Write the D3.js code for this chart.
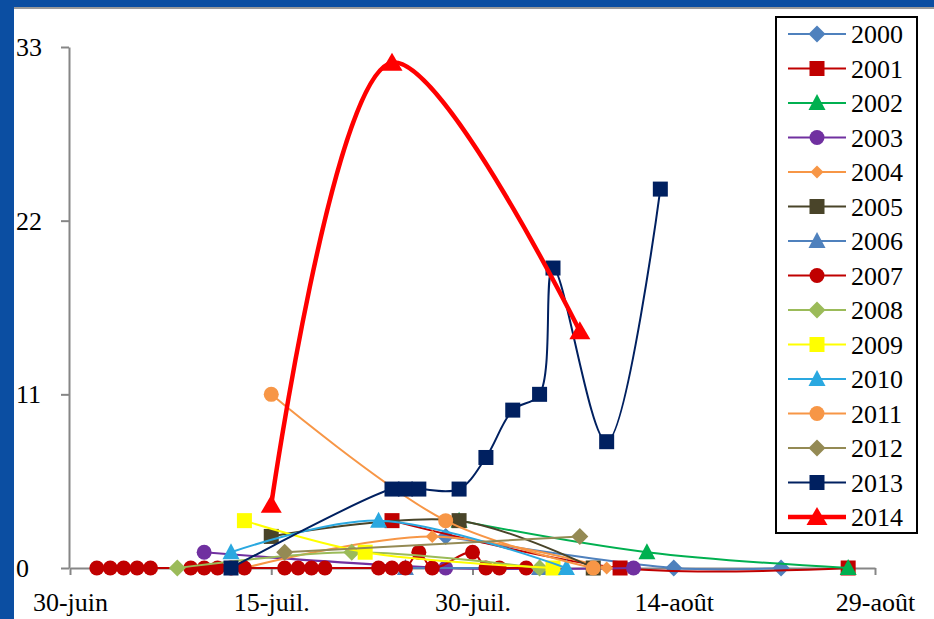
<!DOCTYPE html>
<html>
<head>
<meta charset="utf-8">
<script src="https://cdn.jsdelivr.net/npm/d3@7"></script>
<style>
  body { margin: 0; background: #fff; }
  svg { display: block; }
</style>
</head>
<body>
<svg id="chart" width="934" height="619"></svg>
<script>
// Catches per survey date; x = days after 30 June, y = count
const years = ["2000", "2001", "2002", "2003", "2004", "2005", "2006", "2007",
               "2008", "2009", "2010", "2011", "2012", "2013", "2014"];
const colors = ["#4f81bd", "#c00000", "#00b050", "#7030a0", "#f79646", "#494429", "#4f81bd", "#c00000",
                "#9bbb59", "#ffff00", "#2aa8e0", "#f79646", "#948a54", "#002060", "#ff0000"];
const shapes = ["diamond", "square", "triangle", "circle", "smalldiamond", "square", "triangle", "circle",
                "diamond", "square", "triangle", "circle", "diamond", "square", "bigtriangle"];

const s2000 = [[28, 2], [45, 0], [53, 0]];
const s2001 = [[24, 3], [41, 0], [58, 0]];
const s2002 = [[29, 3], [43, 1], [58, 0]];
const s2003 = [[10, 1], [28, 0], [42, 0]];
const s2004 = [[13, 0], [27, 2], [40, 0]];
const s2005 = [[15, 2], [29, 3], [39, 0]];
const s2006 = [[25, 0], [35, 0]];
const s2007 = [[2, 0], [3, 0], [4, 0], [5, 0], [6, 0], [9, 0], [10, 0], [11, 0], [12, 0], [13, 0],
               [16, 0], [17, 0], [18, 0], [19, 0], [23, 0], [24, 0], [25, 0], [26, 1], [27, 0],
               [30, 1], [31, 0], [32, 0], [34, 0]];
const s2008 = [[8, 0], [21, 1], [35, 0]];
const s2009 = [[13, 3], [22, 1], [36, 0]];
const s2010 = [[12, 1], [23, 3], [37, 0]];
const s2011 = [[15, 11], [28, 3], [39, 0]];
const s2012 = [[16, 1], [38, 2]];
const s2013 = [[12, 0], [24, 5], [25, 5], [26, 5], [29, 5], [31, 7], [33, 10], [35, 11], [36, 19], [40, 8], [44, 24]];
const s2014 = [[15, 4], [24, 32], [38, 15]];

const series = [s2000, s2001, s2002, s2003, s2004, s2005, s2006, s2007,
                s2008, s2009, s2010, s2011, s2012, s2013, s2014];

const yTicks = [0, 11, 22, 33];
const xTickDays = [0, 15, 30, 45, 60];
const xTickLabels = ["30-juin", "15-juil.", "30-juil.", "14-août", "29-août"];

const FONT = "Liberation Serif";

const svg = d3.select("#chart");

// frame
svg.append("rect").attr("x", 0).attr("y", 0).attr("width", 934).attr("height", 7).attr("fill", "#0b4ea2");
svg.append("rect").attr("x", 0).attr("y", 7).attr("width", 934).attr("height", 2).attr("fill", "#9a9a9a");
svg.append("rect").attr("x", 0).attr("y", 0).attr("width", 14).attr("height", 619).attr("fill", "#0b4ea2");

const x = d3.scaleLinear().domain([0, 60]).range([70, 875]);
const y = d3.scaleLinear().domain([0, 33]).range([568, 47]);

// axes
const yAxis = svg.append("g").attr("transform", `translate(${x(0) - 1},0)`)
  .call(d3.axisLeft(y).tickValues(yTicks).tickSize(8).tickSizeOuter(0));
yAxis.attr("font-family", null).attr("font-size", null);
yAxis.select(".domain").attr("stroke", "#868686").attr("stroke-width", 2);
yAxis.selectAll(".tick line").attr("stroke", "#868686").attr("stroke-width", 2);
yAxis.selectAll(".tick text")
  .attr("x", 16 - (x(0) - 1)).attr("dy", "0.33em").attr("text-anchor", "start")
  .attr("fill", "#000").style("font-family", FONT).style("font-size", "26px");

const xAxis = svg.append("g").attr("transform", "translate(0,568)")
  .call(d3.axisBottom(x).tickValues(xTickDays).tickFormat((d, i) => xTickLabels[i]).tickSize(7).tickSizeOuter(0));
xAxis.attr("font-family", null).attr("font-size", null);
xAxis.select(".domain").attr("stroke", "#868686").attr("stroke-width", 2);
xAxis.selectAll(".tick line").attr("stroke", "#868686").attr("stroke-width", 2);
xAxis.selectAll(".tick text")
  .attr("y", 43).attr("dy", null)
  .attr("fill", "#000").style("font-family", FONT).style("font-size", "26px");

// marker painter
function marker(g, shape, color, cx, cy) {
  if (shape === "circle") {
    g.append("circle").attr("cx", cx).attr("cy", cy).attr("r", 7.5).attr("fill", color);
  } else if (shape === "square") {
    g.append("rect").attr("x", cx - 7.5).attr("y", cy - 7.5).attr("width", 15).attr("height", 15).attr("fill", color);
  } else if (shape === "diamond" || shape === "smalldiamond") {
    const s = shape === "diamond" ? 8.5 : 6.5;
    g.append("path").attr("d", `M${cx},${cy - s}L${cx + s},${cy}L${cx},${cy + s}L${cx - s},${cy}Z`).attr("fill", color);
  } else if (shape === "triangle") {
    g.append("path").attr("d", `M${cx},${cy - 9}L${cx + 8.5},${cy + 7}L${cx - 8.5},${cy + 7}Z`).attr("fill", color);
  } else if (shape === "bigtriangle") {
    g.append("path").attr("d", `M${cx},${cy - 10}L${cx + 10.5},${cy + 8}L${cx - 10.5},${cy + 8}Z`).attr("fill", color);
  }
}

const line = d3.line().x(d => x(d[0])).y(d => y(d[1])).curve(d3.curveCatmullRom.alpha(0.5));

// series, drawn in order so later years sit on top
series.forEach((pts, i) => {
  const g = svg.append("g");
  g.append("path").datum(pts).attr("d", line)
    .attr("fill", "none").attr("stroke", colors[i])
    .attr("stroke-width", i === 14 ? 4.5 : 2);
  pts.forEach(p => marker(g, shapes[i], colors[i], x(p[0]), y(p[1])));
});

// legend
const lg = svg.append("g");
lg.append("rect").attr("x", 776).attr("y", 17).attr("width", 141).attr("height", 516)
  .attr("fill", "#fff").attr("stroke", "#000").attr("stroke-width", 2);
years.forEach((yr, i) => {
  const cy = 34 + i * 34.5;
  const g = lg.append("g");
  g.append("line").attr("x1", 788).attr("x2", 846).attr("y1", cy).attr("y2", cy)
    .attr("stroke", colors[i]).attr("stroke-width", i === 14 ? 4.5 : 2);
  marker(g, shapes[i], colors[i], 817, cy);
  g.append("text").attr("x", 851).attr("y", cy + 9)
    .style("font-family", FONT).style("font-size", "26px").attr("fill", "#000").text(yr);
});
</script>
</body>
</html>
